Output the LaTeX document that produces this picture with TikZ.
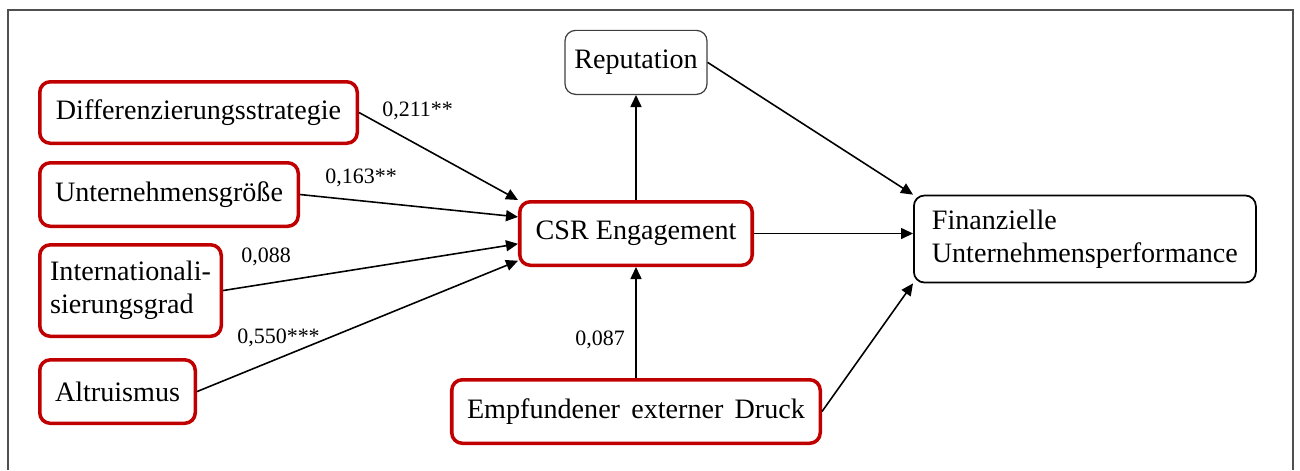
\documentclass[tikz,border=0pt]{standalone}
\usepackage{fontspec}
\setmainfont{Liberation Serif}
\usetikzlibrary{arrows.meta,positioning}
\definecolor{Frame}{HTML}{505050}
\definecolor{DarkRed}{HTML}{C00000}
\definecolor{Edge}{HTML}{404040}

\begin{document}
\begin{tikzpicture}[
  node distance=0.32cm,
  driver/.style={rounded corners=6pt,draw=DarkRed,fill=white,line width=2pt,minimum height=1.27cm,align=left,inner sep=2pt,font=\fontsize{16}{19}\selectfont},
  outcome/.style={rounded corners=6pt,draw=Edge,fill=white,line width=0.7pt,minimum height=1.28cm,align=left,inner sep=2pt,font=\fontsize{16}{19}\selectfont},
  coef/.style={anchor=base west,inner sep=0pt,font=\fontsize{12.5}{15}\selectfont},
  arrow/.style={-{Triangle[length=2.4mm,width=2.2mm]},line width=0.9pt}
]
\useasboundingbox (0,0) rectangle (26,-9.4);
% frame, open at the bottom
\draw[Frame,line width=1.1pt] (0.16,-9.4) -- (0.16,-0.2) -- (25.86,-0.2) -- (25.86,-9.4);

% drivers on the left
\node[driver,minimum width=6.35cm,minimum height=1.23cm,anchor=north west] (diff) at (0.76,-1.60) {Differenzierungsstrategie};
\node[driver,minimum width=5.17cm,below=0.32cm of diff.south west,anchor=north west] (size) {Unternehmensgröße};
\node[driver,minimum width=3.63cm,minimum height=1.83cm,below=0.30cm of size.south west,anchor=north west] (intl) {Internationali-\\sierungsgrad};
\node[driver,minimum width=3.11cm,below=0.40cm of intl.south west,anchor=north west] (altr) {Altruismus};

% centre and outcomes
\node[driver,minimum width=4.65cm] (csr) at (12.72,-4.67) {CSR Engagement};
\node[outcome,minimum width=2.84cm,above=2.1cm of csr] (rep) {Reputation};
\node[driver,minimum width=7.37cm,below=2.22cm of csr] (druck) {Empfundener\hspace{0.4em}externer\hspace{0.4em}Druck};
\node[outcome,draw=black,line width=1pt,minimum width=6.84cm,minimum height=1.74cm,right=3.18cm of csr,yshift=-0.11cm] (fin) {Finanzielle\\Unternehmensperformance};

\draw[arrow] (diff.east) -- (csr.north west);
\draw[arrow] (size.east) -- (csr.172.5);
\draw[arrow] (intl.east) -- (csr.185.6);
\draw[arrow] (altr.east) -- (csr.193.1);
\draw[arrow] (csr.north) -- (csr.north |- rep.south);
\draw[arrow] (csr.south |- druck.north) -- (csr.south);
\draw[arrow] (rep.east) -- (fin.north west);
\draw[arrow] (csr.east) -- (csr.east -| fin.west);
\draw[arrow] (druck.east) -- (fin.south west);

% path coefficients
\node[coef] (c1) at (7.64,-2.32) {0,211**};
\node[coef] (c2) at (6.50,-3.66) {0,163**};
\node[coef] (c3) at (4.82,-5.24) {0,088};
\node[coef] (c4) at (4.74,-6.86) {0,550***};
\node[coef] (c5) at (11.50,-6.90) {0,087};
\end{tikzpicture}
\end{document}
